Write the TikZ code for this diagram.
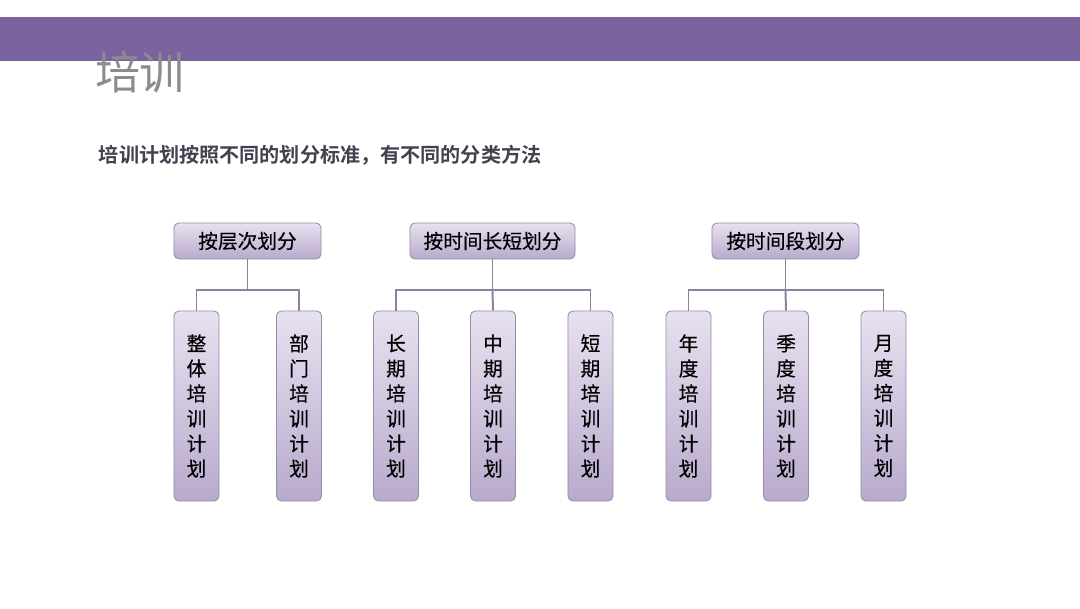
\documentclass[tikz,border=0pt]{standalone}
\usepackage{fontspec}
\setmainfont{Noto Sans CJK SC}[BoldFont={Noto Sans CJK SC Bold}]
\newfontfamily\boxfont{Noto Sans CJK SC}[FakeBold=0.4]
\usepackage{tikz}
\usetikzlibrary{positioning,calc}
\definecolor{barpurple}{RGB}{123,99,160}
\definecolor{boxtop}{RGB}{232,225,240}
\definecolor{boxbottom}{RGB}{184,170,204}
\definecolor{boxedge}{RGB}{150,140,168}
\definecolor{linkgray}{RGB}{140,130,156}
\definecolor{subtext}{RGB}{64,66,80}
\tikzset{
  catbox/.style={draw=boxedge, line width=0.6pt, rounded corners=3.5pt, top color=boxtop, bottom color=boxbottom, align=center, minimum height=0.9cm, inner sep=0pt, font=\boxfont\fontsize{14}{16}\selectfont},
  planbox/.style={draw=boxedge, line width=0.6pt, rounded corners=3.5pt, top color=boxtop, bottom color=boxbottom, align=center, minimum width=1.125cm, minimum height=4.75cm, inner sep=0pt, font=\boxfont\fontsize{14}{17.8}\selectfont},
  link/.style={draw=linkgray, line width=1.4pt}
}
\begin{document}
\begin{tikzpicture}[x=0.025cm, y=-0.025cm]
\useasboundingbox (0,0) rectangle (1080,608);
% header band
\fill[barpurple] (0,17) rectangle (1080,61);
\node[text=black!45, font=\fontsize{32}{34}\selectfont] (title) at (140,72) {培训};
\node[text=subtext, anchor=west, font=\fontsize{14.3}{16}\selectfont\bfseries] (lead) at (94,155) {培训计划按照不同的划分标准，有不同的分类方法};
% by level
\node[catbox, minimum width=3.675cm] (hdrA) at (247.5,241) {按层次划分};
\node[planbox] (kidA1) at (196.5,406) {整\\体\\培\\训\\计\\划};
\node[planbox] (kidA2) at (299,406) {部\\门\\培\\训\\计\\划};
% by length
\node[catbox, minimum width=4.125cm] (hdrB) at (492.5,241) {按时间长短划分};
\node[planbox] (kidB1) at (396,406) {长\\期\\培\\训\\计\\划};
\node[planbox] (kidB2) at (493,406) {中\\期\\培\\训\\计\\划};
\node[planbox] (kidB3) at (590.5,406) {短\\期\\培\\训\\计\\划};
% by period
\node[catbox, minimum width=3.675cm] (hdrC) at (785.5,241) {按时间段划分};
\node[planbox] (kidC1) at (688.5,406) {年\\度\\培\\训\\计\\划};
\node[planbox] (kidC2) at (786,406) {季\\度\\培\\训\\计\\划};
\node[planbox] (kidC3) at (883.5,406) {月\\度\\培\\训\\计\\划};
% connectors
\coordinate (junA) at (hdrA.south |- 0,290);
\coordinate (junB) at (hdrB.south |- 0,290);
\coordinate (junC) at (hdrC.south |- 0,290);
\draw[link] (hdrA.south) -- (junA);
\draw[link] (kidA1.north) |- (junA) -| (kidA2.north);
\draw[link] (hdrB.south) -- (junB);
\draw[link] (kidB1.north) |- (junB) -| (kidB3.north);
\draw[link] (junB) -- (kidB2.north);
\draw[link] (hdrC.south) -- (junC);
\draw[link] (kidC1.north) |- (junC) -| (kidC3.north);
\draw[link] (junC) -- (kidC2.north);
\end{tikzpicture}
\end{document}
